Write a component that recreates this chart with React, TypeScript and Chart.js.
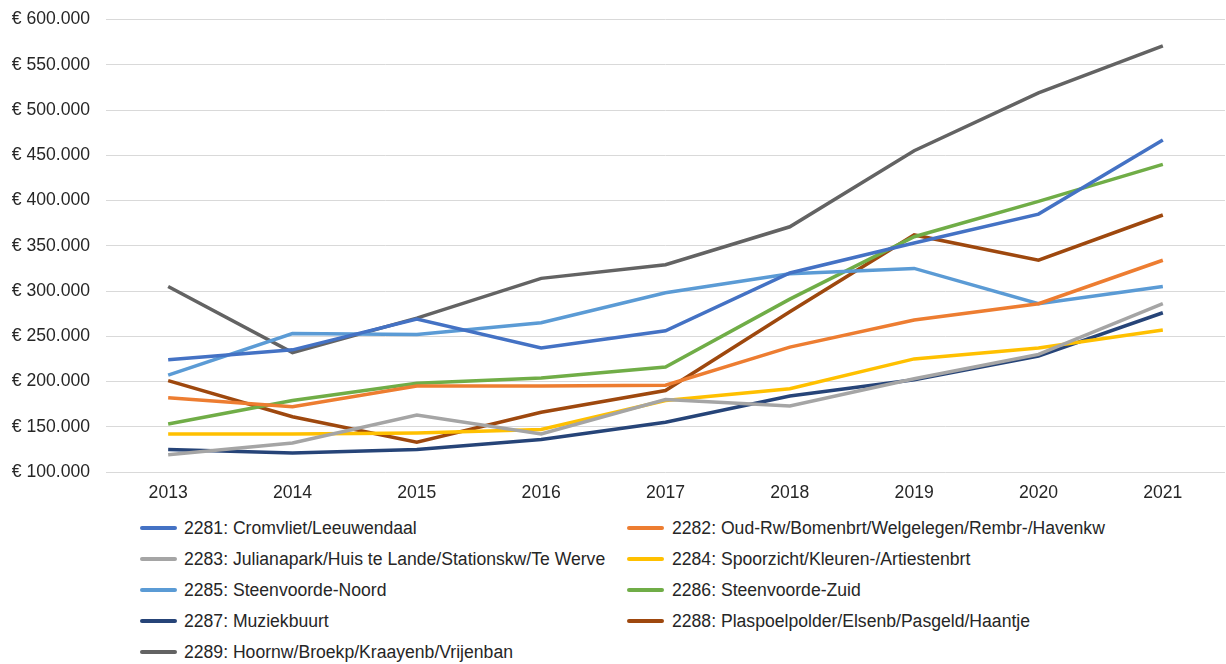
import React, { useEffect, useRef } from "react";
import { Chart, registerables } from "chart.js";

Chart.register(...registerables);

const years = ["2013", "2014", "2015", "2016", "2017", "2018", "2019", "2020", "2021"];

const cromvliet = [224000, 235000, 269000, 237000, 256000, 320000, 353000, 385000, 467000];
const oudRw = [182000, 172000, 195000, 195000, 196000, 238000, 268000, 286000, 334000];
const julianapark = [119000, 132000, 163000, 142000, 180000, 173000, 203000, 230000, 286000];
const spoorzicht = [142000, 142000, 143000, 147000, 179000, 192000, 225000, 237000, 257000];
const steenvoordeNoord = [207000, 253000, 252000, 265000, 298000, 319000, 325000, 286000, 305000];
const steenvoordeZuid = [153000, 179000, 198000, 204000, 216000, 291000, 360000, 399000, 440000];
const muziekbuurt = [125000, 121000, 125000, 136000, 155000, 184000, 202000, 228000, 276000];
const plaspoelpolder = [201000, 161000, 133000, 166000, 190000, 277000, 362000, 334000, 384000];
const hoornw = [305000, 232000, 270000, 314000, 329000, 371000, 455000, 519000, 571000];

const seriesLabels = [
  "2281: Cromvliet/Leeuwendaal",
  "2282: Oud-Rw/Bomenbrt/Welgelegen/Rembr-/Havenkw",
  "2283: Julianapark/Huis te Lande/Stationskw/Te Werve",
  "2284: Spoorzicht/Kleuren-/Artiestenbrt",
  "2285: Steenvoorde-Noord",
  "2286: Steenvoorde-Zuid",
  "2287: Muziekbuurt",
  "2288: Plaspoelpolder/Elsenb/Pasgeld/Haantje",
  "2289: Hoornw/Broekp/Kraayenb/Vrijenban",
];
const seriesData = [cromvliet, oudRw, julianapark, spoorzicht, steenvoordeNoord, steenvoordeZuid, muziekbuurt, plaspoelpolder, hoornw];
const seriesColors = ["#4472C4", "#ED7D31", "#A5A5A5", "#FFC000", "#5B9BD5", "#70AD47", "#264478", "#9E480E", "#636363"];

const FONT = "'Liberation Sans', Arial, sans-serif";
const TEXT = "#262626";
const FS = 17.6;

export default function App() {
  const ref = useRef<HTMLCanvasElement | null>(null);

  useEffect(() => {
    if (!ref.current) return;
    const chart = new Chart(ref.current, {
      type: "line",
      data: {
        labels: years,
        datasets: seriesData.map((d, i) => ({
          label: seriesLabels[i],
          data: d,
          borderColor: seriesColors[i],
          backgroundColor: seriesColors[i],
          borderWidth: 3.5,
          pointRadius: 0,
          tension: 0,
          fill: false,
        })),
      },
      options: {
        responsive: true,
        maintainAspectRatio: false,
        animation: false,
        layout: { padding: { top: 0, right: 1, left: 0, bottom: 0 } },
        plugins: {
          legend: { display: false },
          tooltip: { enabled: false },
        },
        scales: {
          x: {
            offset: true,
            grid: { display: false, drawTicks: false },
            border: { display: false },
            ticks: { color: TEXT, font: { family: FONT, size: FS }, padding: 11, maxRotation: 0 },
            afterFit: (s: any) => {
              s.height = 38;
            },
          },
          y: {
            min: 100000,
            max: 600000,
            grid: { color: "#D9D9D9", lineWidth: 1, drawTicks: false },
            border: { display: false },
            ticks: {
              stepSize: 50000,
              color: TEXT,
              padding: 16,
              font: { family: FONT, size: FS },
              callback: (v: any) => "€ " + Number(v).toLocaleString("de-DE"),
            },
            afterFit: (s: any) => {
              s.width = 106;
            },
          },
        },
      },
    });
    return () => chart.destroy();
  }, []);

  const rowTop = 517;
  const rowH = 31;

  return (
    <div style={{ position: "fixed", left: 0, top: 0, width: 1226, height: 664, background: "#fff", fontFamily: FONT, overflow: "hidden" }}>
      <div style={{ position: "absolute", left: 0, top: -7, width: 1226, height: 517 }}>
        <canvas ref={ref} />
      </div>
      {seriesLabels.map((lab, i) => {
        const col = i % 2;
        const row = Math.floor(i / 2);
        const sx = col === 0 ? 140 : 627;
        const tx = col === 0 ? 184 : 672;
        const cy = rowTop + row * rowH + 11;
        return (
          <React.Fragment key={lab}>
            <div
              style={{
                position: "absolute",
                left: sx,
                top: cy - 2,
                width: 37,
                height: 4,
                background: seriesColors[i],
                borderRadius: 2,
              }}
            />
            <div
              style={{
                position: "absolute",
                left: tx,
                top: cy - 11,
                height: 22,
                lineHeight: "22px",
                fontSize: FS,
                color: TEXT,
                whiteSpace: "nowrap",
              }}
            >
              {lab}
            </div>
          </React.Fragment>
        );
      })}
    </div>
  );
}
